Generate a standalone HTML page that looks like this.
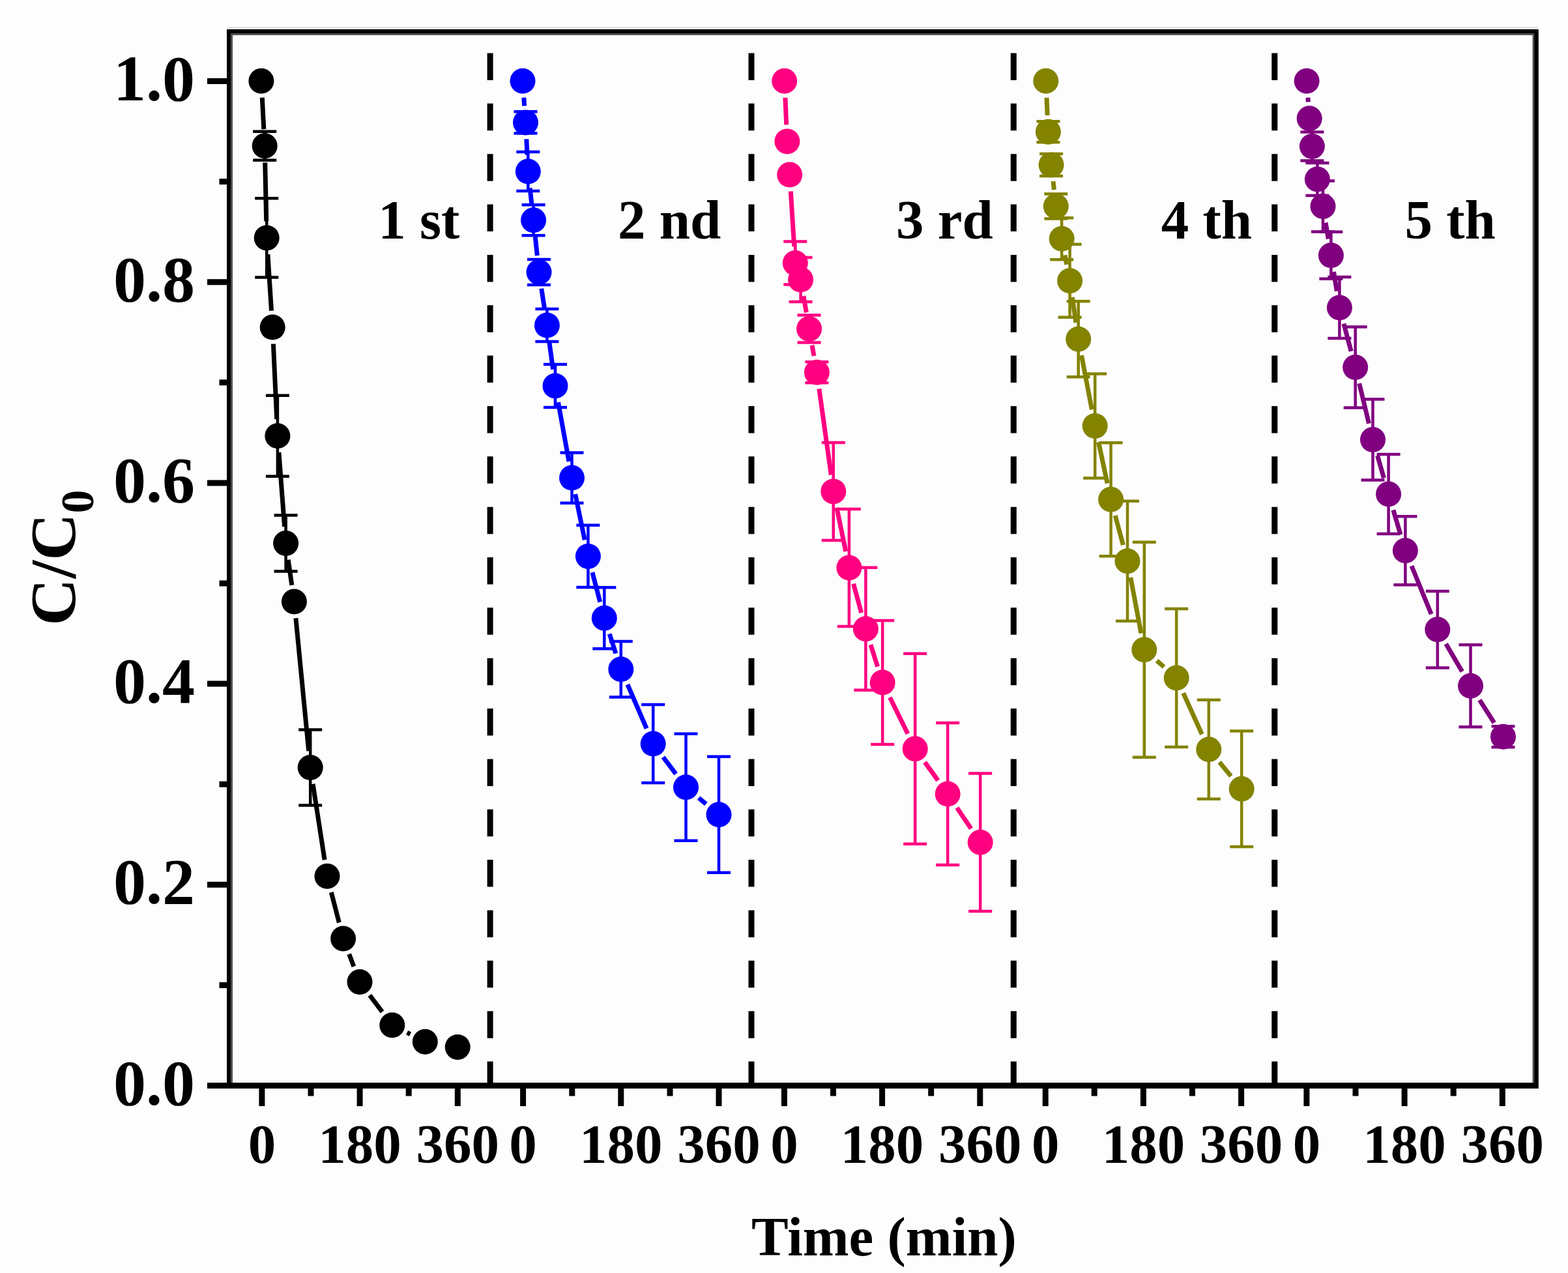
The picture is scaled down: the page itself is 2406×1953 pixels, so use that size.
<!DOCTYPE html><html><head><meta charset="utf-8"><title>C/C0 vs Time</title>
<style>html,body{margin:0;padding:0;background:#ffffff;overflow:hidden}svg{display:block}</style></head><body>
<svg width="2406" height="1953" viewBox="0 0 2406 1953">
<rect x="0" y="0" width="2406" height="1953" fill="#fefefe"/>
<rect x="17" y="41" width="2345" height="1912" fill="#fdfdfd"/>
<rect x="348" y="41" width="2012" height="4" fill="#e6e6e6"/>
<line x1="752.1" y1="81.5" x2="752.1" y2="1665" stroke="#000" stroke-width="9" stroke-dasharray="41.5 35.85"/>
<line x1="1153.0" y1="81.5" x2="1153.0" y2="1665" stroke="#000" stroke-width="9" stroke-dasharray="41.5 35.85"/>
<line x1="1555.3" y1="81.5" x2="1555.3" y2="1665" stroke="#000" stroke-width="9" stroke-dasharray="41.5 35.85"/>
<line x1="1955.8" y1="81.5" x2="1955.8" y2="1665" stroke="#000" stroke-width="9" stroke-dasharray="41.5 35.85"/>
<g stroke="#000000" fill="#000000"><path d="M406.2 201.8V245.8M388.2 201.8h36M388.2 245.8h36" stroke-width="4.5" fill="none"/><path d="M409.2 304.3V425.5M391.2 304.3h36M391.2 425.5h36" stroke-width="4.5" fill="none"/><path d="M425.9 606.7V730.7M407.9 606.7h36M407.9 730.7h36" stroke-width="4.5" fill="none"/><path d="M438.6 790.5V876.5M420.6 790.5h36M420.6 876.5h36" stroke-width="4.5" fill="none"/><path d="M476.2 1119.5V1235.5M458.2 1119.5h36M458.2 1235.5h36" stroke-width="4.5" fill="none"/><path d="M402.3 149.8L404.8 198.3M406.7 249.3L408.7 339.4M410.9 390.3L416.5 476.7M419.4 527.6L424.7 643.2M427.9 694.1L436.6 808.1M442.2 858.7L447.8 897.8M453.9 948.4L473.7 1152.1M480.1 1202.7L498.1 1319.1M508.3 1369.0L520.3 1415.3M535.7 1463.8L542.9 1482.7M567.3 1526.9L586.5 1552.3M624.6 1584.2L629.5 1586.7" stroke-width="7" fill="none"/><circle cx="400.9" cy="124.3" r="19.5" stroke="none"/><circle cx="406.2" cy="223.8" r="19.5" stroke="none"/><circle cx="409.2" cy="364.9" r="19.5" stroke="none"/><circle cx="418.2" cy="502.1" r="19.5" stroke="none"/><circle cx="425.9" cy="668.7" r="19.5" stroke="none"/><circle cx="438.6" cy="833.5" r="19.5" stroke="none"/><circle cx="451.4" cy="923.0" r="19.5" stroke="none"/><circle cx="476.2" cy="1177.5" r="19.5" stroke="none"/><circle cx="502.0" cy="1344.3" r="19.5" stroke="none"/><circle cx="526.6" cy="1440.0" r="19.5" stroke="none"/><circle cx="552.0" cy="1506.5" r="19.5" stroke="none"/><circle cx="601.8" cy="1572.7" r="19.5" stroke="none"/><circle cx="652.3" cy="1598.2" r="19.5" stroke="none"/><circle cx="702.2" cy="1606.4" r="19.5" stroke="none"/></g>
<g stroke="#0000ff" fill="#0000ff"><path d="M806.5 171.3V204.5M788.5 171.3h36M788.5 204.5h36" stroke-width="4.5" fill="none"/><path d="M810.3 233.1V293.1M792.3 233.1h36M792.3 293.1h36" stroke-width="4.5" fill="none"/><path d="M818.6 314.3V361.3M800.6 314.3h36M800.6 361.3h36" stroke-width="4.5" fill="none"/><path d="M827.0 398.1V436.9M809.0 398.1h36M809.0 436.9h36" stroke-width="4.5" fill="none"/><path d="M839.4 474.1V524.1M821.4 474.1h36M821.4 524.1h36" stroke-width="4.5" fill="none"/><path d="M852.0 559.0V625.0M834.0 559.0h36M834.0 625.0h36" stroke-width="4.5" fill="none"/><path d="M877.5 694.4V771.8M859.5 694.4h36M859.5 771.8h36" stroke-width="4.5" fill="none"/><path d="M902.4 805.7V901.1M884.4 805.7h36M884.4 901.1h36" stroke-width="4.5" fill="none"/><path d="M927.3 901.3V995.3M909.3 901.3h36M909.3 995.3h36" stroke-width="4.5" fill="none"/><path d="M952.8 984.0V1069.4M934.8 984.0h36M934.8 1069.4h36" stroke-width="4.5" fill="none"/><path d="M1002.2 1081.1V1201.1M984.2 1081.1h36M984.2 1201.1h36" stroke-width="4.5" fill="none"/><path d="M1052.5 1125.8V1289.8M1034.5 1125.8h36M1034.5 1289.8h36" stroke-width="4.5" fill="none"/><path d="M1103.0 1160.8V1338.8M1085.0 1160.8h36M1085.0 1338.8h36" stroke-width="4.5" fill="none"/><path d="M803.8 149.7L804.7 162.5M807.8 213.4L809.0 237.6M813.1 288.4L815.8 312.5M821.3 363.2L824.3 392.1M830.8 442.7L835.6 473.9M842.8 524.4L848.6 566.7M856.5 617.1L873.0 708.0M882.7 758.1L897.2 828.4M908.9 878.1L920.8 923.6M935.2 972.5L944.9 1002.5M962.9 1050.1L992.1 1117.7M1017.6 1161.5L1037.1 1187.4M1072.1 1224.1L1083.4 1233.5" stroke-width="7" fill="none"/><circle cx="802.0" cy="124.3" r="19.5" stroke="none"/><circle cx="806.5" cy="187.9" r="19.5" stroke="none"/><circle cx="810.3" cy="263.1" r="19.5" stroke="none"/><circle cx="818.6" cy="337.8" r="19.5" stroke="none"/><circle cx="827.0" cy="417.5" r="19.5" stroke="none"/><circle cx="839.4" cy="499.1" r="19.5" stroke="none"/><circle cx="852.0" cy="592.0" r="19.5" stroke="none"/><circle cx="877.5" cy="733.1" r="19.5" stroke="none"/><circle cx="902.4" cy="853.4" r="19.5" stroke="none"/><circle cx="927.3" cy="948.3" r="19.5" stroke="none"/><circle cx="952.8" cy="1026.7" r="19.5" stroke="none"/><circle cx="1002.2" cy="1141.1" r="19.5" stroke="none"/><circle cx="1052.5" cy="1207.8" r="19.5" stroke="none"/><circle cx="1103.0" cy="1249.8" r="19.5" stroke="none"/></g>
<g stroke="#ff0080" fill="#ff0080"><path d="M1220.3 370.6V436.6M1202.3 370.6h36M1202.3 436.6h36" stroke-width="4.5" fill="none"/><path d="M1228.6 395.1V463.1M1210.6 395.1h36M1210.6 463.1h36" stroke-width="4.5" fill="none"/><path d="M1241.6 483.5V525.5M1223.6 483.5h36M1223.6 525.5h36" stroke-width="4.5" fill="none"/><path d="M1253.4 555.3V587.3M1235.4 555.3h36M1235.4 587.3h36" stroke-width="4.5" fill="none"/><path d="M1278.8 678.9V828.9M1260.8 678.9h36M1260.8 828.9h36" stroke-width="4.5" fill="none"/><path d="M1302.9 781.0V961.0M1284.9 781.0h36M1284.9 961.0h36" stroke-width="4.5" fill="none"/><path d="M1328.4 870.8V1058.8M1310.4 870.8h36M1310.4 1058.8h36" stroke-width="4.5" fill="none"/><path d="M1354.2 952.1V1142.1M1336.2 952.1h36M1336.2 1142.1h36" stroke-width="4.5" fill="none"/><path d="M1404.2 1002.7V1294.7M1386.2 1002.7h36M1386.2 1294.7h36" stroke-width="4.5" fill="none"/><path d="M1454.2 1109.1V1327.1M1436.2 1109.1h36M1436.2 1327.1h36" stroke-width="4.5" fill="none"/><path d="M1504.2 1186.6V1398.0M1486.2 1186.6h36M1486.2 1398.0h36" stroke-width="4.5" fill="none"/><path d="M1204.9 149.8L1206.7 191.4M1213.3 293.5L1218.7 378.2M1232.9 454.2L1237.3 479.4M1246.0 529.6L1249.0 546.2M1256.9 596.6L1275.3 728.6M1283.9 778.9L1297.8 846.0M1309.6 895.6L1321.7 940.2M1336.0 989.1L1346.6 1022.8M1365.5 1070.0L1392.9 1125.8M1419.1 1169.4L1439.3 1197.4M1468.4 1239.2L1490.0 1271.2" stroke-width="7" fill="none"/><circle cx="1203.7" cy="124.3" r="19.5" stroke="none"/><circle cx="1207.9" cy="216.9" r="19.5" stroke="none"/><circle cx="1211.7" cy="268.1" r="19.5" stroke="none"/><circle cx="1220.3" cy="403.6" r="19.5" stroke="none"/><circle cx="1228.6" cy="429.1" r="19.5" stroke="none"/><circle cx="1241.6" cy="504.5" r="19.5" stroke="none"/><circle cx="1253.4" cy="571.3" r="19.5" stroke="none"/><circle cx="1278.8" cy="753.9" r="19.5" stroke="none"/><circle cx="1302.9" cy="871.0" r="19.5" stroke="none"/><circle cx="1328.4" cy="964.8" r="19.5" stroke="none"/><circle cx="1354.2" cy="1047.1" r="19.5" stroke="none"/><circle cx="1404.2" cy="1148.7" r="19.5" stroke="none"/><circle cx="1454.2" cy="1218.1" r="19.5" stroke="none"/><circle cx="1504.2" cy="1292.3" r="19.5" stroke="none"/></g>
<g stroke="#838300" fill="#838300"><path d="M1608.4 186.3V218.3M1590.4 186.3h36M1590.4 218.3h36" stroke-width="4.5" fill="none"/><path d="M1613.1 235.9V269.9M1595.1 235.9h36M1595.1 269.9h36" stroke-width="4.5" fill="none"/><path d="M1620.3 297.5V335.5M1602.3 297.5h36M1602.3 335.5h36" stroke-width="4.5" fill="none"/><path d="M1629.2 334.3V398.3M1611.2 334.3h36M1611.2 398.3h36" stroke-width="4.5" fill="none"/><path d="M1641.6 374.8V486.8M1623.6 374.8h36M1623.6 486.8h36" stroke-width="4.5" fill="none"/><path d="M1654.7 462.2V578.2M1636.7 462.2h36M1636.7 578.2h36" stroke-width="4.5" fill="none"/><path d="M1680.2 573.4V733.4M1662.2 573.4h36M1662.2 733.4h36" stroke-width="4.5" fill="none"/><path d="M1704.6 679.3V853.3M1686.6 679.3h36M1686.6 853.3h36" stroke-width="4.5" fill="none"/><path d="M1730.0 768.8V952.8M1712.0 768.8h36M1712.0 952.8h36" stroke-width="4.5" fill="none"/><path d="M1755.8 831.8V1161.8M1737.8 831.8h36M1737.8 1161.8h36" stroke-width="4.5" fill="none"/><path d="M1805.2 934.0V1146.0M1787.2 934.0h36M1787.2 1146.0h36" stroke-width="4.5" fill="none"/><path d="M1854.8 1073.7V1225.7M1836.8 1073.7h36M1836.8 1225.7h36" stroke-width="4.5" fill="none"/><path d="M1905.2 1121.6V1299.0M1887.2 1121.6h36M1887.2 1299.0h36" stroke-width="4.5" fill="none"/><path d="M1606.0 149.8L1607.2 176.8M1616.0 278.2L1617.4 291.2M1634.0 391.3L1636.8 405.8M1645.3 456.0L1651.0 495.0M1659.5 545.2L1675.4 628.4M1685.6 678.3L1699.2 741.4M1711.2 790.9L1723.4 836.2M1734.8 885.9L1751.0 971.7M1775.0 1013.6L1786.0 1023.2M1815.7 1063.2L1844.3 1126.5M1871.1 1169.3L1888.9 1190.7" stroke-width="7" fill="none"/><circle cx="1604.8" cy="124.3" r="19.5" stroke="none"/><circle cx="1608.4" cy="202.3" r="19.5" stroke="none"/><circle cx="1613.1" cy="252.9" r="19.5" stroke="none"/><circle cx="1620.3" cy="316.5" r="19.5" stroke="none"/><circle cx="1629.2" cy="366.3" r="19.5" stroke="none"/><circle cx="1641.6" cy="430.8" r="19.5" stroke="none"/><circle cx="1654.7" cy="520.2" r="19.5" stroke="none"/><circle cx="1680.2" cy="653.4" r="19.5" stroke="none"/><circle cx="1704.6" cy="766.3" r="19.5" stroke="none"/><circle cx="1730.0" cy="860.8" r="19.5" stroke="none"/><circle cx="1755.8" cy="996.8" r="19.5" stroke="none"/><circle cx="1805.2" cy="1040.0" r="19.5" stroke="none"/><circle cx="1854.8" cy="1149.7" r="19.5" stroke="none"/><circle cx="1905.2" cy="1210.3" r="19.5" stroke="none"/></g>
<g stroke="#800080" fill="#800080"><path d="M2013.4 202.4V246.4M1995.4 202.4h36M1995.4 246.4h36" stroke-width="4.5" fill="none"/><path d="M2021.4 250.0V300.0M2003.4 250.0h36M2003.4 300.0h36" stroke-width="4.5" fill="none"/><path d="M2030.0 277.5V355.5M2012.0 277.5h36M2012.0 355.5h36" stroke-width="4.5" fill="none"/><path d="M2042.4 355.8V427.8M2024.4 355.8h36M2024.4 427.8h36" stroke-width="4.5" fill="none"/><path d="M2055.4 425.0V519.0M2037.4 425.0h36M2037.4 519.0h36" stroke-width="4.5" fill="none"/><path d="M2079.7 501.5V625.5M2061.7 501.5h36M2061.7 625.5h36" stroke-width="4.5" fill="none"/><path d="M2106.5 612.5V736.5M2088.5 612.5h36M2088.5 736.5h36" stroke-width="4.5" fill="none"/><path d="M2130.6 697.0V819.0M2112.6 697.0h36M2112.6 819.0h36" stroke-width="4.5" fill="none"/><path d="M2156.4 792.2V897.2M2138.4 792.2h36M2138.4 897.2h36" stroke-width="4.5" fill="none"/><path d="M2205.8 907.1V1024.5M2187.8 907.1h36M2187.8 1024.5h36" stroke-width="4.5" fill="none"/><path d="M2256.5 989.3V1115.3M2238.5 989.3h36M2238.5 1115.3h36" stroke-width="4.5" fill="none"/><path d="M2306.5 1114.3V1146.3M2288.5 1114.3h36M2288.5 1146.3h36" stroke-width="4.5" fill="none"/><path d="M2006.9 149.7L2007.4 156.4M2034.1 341.7L2038.3 366.6M2046.5 417.0L2051.3 446.8M2061.9 496.6L2073.2 538.9M2085.7 588.3L2100.5 649.7M2113.6 699.0L2123.5 733.5M2137.9 782.4L2149.1 820.3M2166.0 868.3L2196.2 942.2M2218.7 987.8L2243.6 1030.3M2270.3 1073.8L2292.7 1108.8" stroke-width="7" fill="none"/><circle cx="2005.1" cy="124.3" r="19.5" stroke="none"/><circle cx="2009.2" cy="181.8" r="19.5" stroke="none"/><circle cx="2013.4" cy="224.4" r="19.5" stroke="none"/><circle cx="2021.4" cy="275.0" r="19.5" stroke="none"/><circle cx="2030.0" cy="316.5" r="19.5" stroke="none"/><circle cx="2042.4" cy="391.8" r="19.5" stroke="none"/><circle cx="2055.4" cy="472.0" r="19.5" stroke="none"/><circle cx="2079.7" cy="563.5" r="19.5" stroke="none"/><circle cx="2106.5" cy="674.5" r="19.5" stroke="none"/><circle cx="2130.6" cy="758.0" r="19.5" stroke="none"/><circle cx="2156.4" cy="844.7" r="19.5" stroke="none"/><circle cx="2205.8" cy="965.8" r="19.5" stroke="none"/><circle cx="2256.5" cy="1052.3" r="19.5" stroke="none"/><circle cx="2306.5" cy="1130.3" r="19.5" stroke="none"/></g>
<rect x="352.5" y="49.5" width="2003.8" height="1616" fill="none" stroke="#000" stroke-width="9"/>
<path d="M354 51h1998v3H357v1607h-3z" fill="#505050"/>
<rect x="2351.8" y="51" width="2.5" height="1610" fill="#505050"/>
<line x1="318" y1="1665.5" x2="352" y2="1665.5" stroke="#000" stroke-width="9"/>
<text x="299" y="1694.5" text-anchor="end" font-family="'Liberation Serif', serif" font-weight="bold" font-size="100">0.0</text>
<line x1="336.5" y1="1511.4" x2="352" y2="1511.4" stroke="#000" stroke-width="9"/>
<line x1="318" y1="1357.3" x2="352" y2="1357.3" stroke="#000" stroke-width="9"/>
<text x="299" y="1386.3" text-anchor="end" font-family="'Liberation Serif', serif" font-weight="bold" font-size="100">0.2</text>
<line x1="336.5" y1="1203.2" x2="352" y2="1203.2" stroke="#000" stroke-width="9"/>
<line x1="318" y1="1049.1" x2="352" y2="1049.1" stroke="#000" stroke-width="9"/>
<text x="299" y="1078.1" text-anchor="end" font-family="'Liberation Serif', serif" font-weight="bold" font-size="100">0.4</text>
<line x1="336.5" y1="895.0" x2="352" y2="895.0" stroke="#000" stroke-width="9"/>
<line x1="318" y1="740.9" x2="352" y2="740.9" stroke="#000" stroke-width="9"/>
<text x="299" y="769.9" text-anchor="end" font-family="'Liberation Serif', serif" font-weight="bold" font-size="100">0.6</text>
<line x1="336.5" y1="586.8" x2="352" y2="586.8" stroke="#000" stroke-width="9"/>
<line x1="318" y1="432.7" x2="352" y2="432.7" stroke="#000" stroke-width="9"/>
<text x="299" y="461.7" text-anchor="end" font-family="'Liberation Serif', serif" font-weight="bold" font-size="100">0.8</text>
<line x1="336.5" y1="278.6" x2="352" y2="278.6" stroke="#000" stroke-width="9"/>
<line x1="318" y1="124.5" x2="352" y2="124.5" stroke="#000" stroke-width="9"/>
<text x="299" y="153.5" text-anchor="end" font-family="'Liberation Serif', serif" font-weight="bold" font-size="100">1.0</text>
<line x1="401.9" y1="1666" x2="401.9" y2="1697" stroke="#000" stroke-width="9"/>
<text x="401.9" y="1784" text-anchor="middle" font-family="'Liberation Serif', serif" font-weight="bold" font-size="85">0</text>
<line x1="477.0" y1="1666" x2="477.0" y2="1681.5" stroke="#000" stroke-width="9"/>
<line x1="552.1" y1="1666" x2="552.1" y2="1697" stroke="#000" stroke-width="9"/>
<text x="552.1" y="1784" text-anchor="middle" font-family="'Liberation Serif', serif" font-weight="bold" font-size="85">180</text>
<line x1="627.2" y1="1666" x2="627.2" y2="1681.5" stroke="#000" stroke-width="9"/>
<line x1="702.3" y1="1666" x2="702.3" y2="1697" stroke="#000" stroke-width="9"/>
<text x="702.3" y="1784" text-anchor="middle" font-family="'Liberation Serif', serif" font-weight="bold" font-size="85">360</text>
<line x1="802.6" y1="1666" x2="802.6" y2="1697" stroke="#000" stroke-width="9"/>
<text x="802.6" y="1784" text-anchor="middle" font-family="'Liberation Serif', serif" font-weight="bold" font-size="85">0</text>
<line x1="877.8" y1="1666" x2="877.8" y2="1681.5" stroke="#000" stroke-width="9"/>
<line x1="952.8" y1="1666" x2="952.8" y2="1697" stroke="#000" stroke-width="9"/>
<text x="952.8" y="1784" text-anchor="middle" font-family="'Liberation Serif', serif" font-weight="bold" font-size="85">180</text>
<line x1="1028.0" y1="1666" x2="1028.0" y2="1681.5" stroke="#000" stroke-width="9"/>
<line x1="1103.0" y1="1666" x2="1103.0" y2="1697" stroke="#000" stroke-width="9"/>
<text x="1103.0" y="1784" text-anchor="middle" font-family="'Liberation Serif', serif" font-weight="bold" font-size="85">360</text>
<line x1="1203.4" y1="1666" x2="1203.4" y2="1697" stroke="#000" stroke-width="9"/>
<text x="1203.4" y="1784" text-anchor="middle" font-family="'Liberation Serif', serif" font-weight="bold" font-size="85">0</text>
<line x1="1278.5" y1="1666" x2="1278.5" y2="1681.5" stroke="#000" stroke-width="9"/>
<line x1="1353.6" y1="1666" x2="1353.6" y2="1697" stroke="#000" stroke-width="9"/>
<text x="1353.6" y="1784" text-anchor="middle" font-family="'Liberation Serif', serif" font-weight="bold" font-size="85">180</text>
<line x1="1428.7" y1="1666" x2="1428.7" y2="1681.5" stroke="#000" stroke-width="9"/>
<line x1="1503.8" y1="1666" x2="1503.8" y2="1697" stroke="#000" stroke-width="9"/>
<text x="1503.8" y="1784" text-anchor="middle" font-family="'Liberation Serif', serif" font-weight="bold" font-size="85">360</text>
<line x1="1604.2" y1="1666" x2="1604.2" y2="1697" stroke="#000" stroke-width="9"/>
<text x="1604.2" y="1784" text-anchor="middle" font-family="'Liberation Serif', serif" font-weight="bold" font-size="85">0</text>
<line x1="1679.2" y1="1666" x2="1679.2" y2="1681.5" stroke="#000" stroke-width="9"/>
<line x1="1754.4" y1="1666" x2="1754.4" y2="1697" stroke="#000" stroke-width="9"/>
<text x="1754.4" y="1784" text-anchor="middle" font-family="'Liberation Serif', serif" font-weight="bold" font-size="85">180</text>
<line x1="1829.5" y1="1666" x2="1829.5" y2="1681.5" stroke="#000" stroke-width="9"/>
<line x1="1904.6" y1="1666" x2="1904.6" y2="1697" stroke="#000" stroke-width="9"/>
<text x="1904.6" y="1784" text-anchor="middle" font-family="'Liberation Serif', serif" font-weight="bold" font-size="85">360</text>
<line x1="2004.9" y1="1666" x2="2004.9" y2="1697" stroke="#000" stroke-width="9"/>
<text x="2004.9" y="1784" text-anchor="middle" font-family="'Liberation Serif', serif" font-weight="bold" font-size="85">0</text>
<line x1="2080.0" y1="1666" x2="2080.0" y2="1681.5" stroke="#000" stroke-width="9"/>
<line x1="2155.1" y1="1666" x2="2155.1" y2="1697" stroke="#000" stroke-width="9"/>
<text x="2155.1" y="1784" text-anchor="middle" font-family="'Liberation Serif', serif" font-weight="bold" font-size="85">180</text>
<line x1="2230.2" y1="1666" x2="2230.2" y2="1681.5" stroke="#000" stroke-width="9"/>
<line x1="2305.3" y1="1666" x2="2305.3" y2="1697" stroke="#000" stroke-width="9"/>
<text x="2305.3" y="1784" text-anchor="middle" font-family="'Liberation Serif', serif" font-weight="bold" font-size="85">360</text>
<text x="580.2" y="366" font-family="'Liberation Serif', serif" font-weight="bold" font-size="85" xml:space="preserve">1 st</text>
<text x="948.0" y="366" font-family="'Liberation Serif', serif" font-weight="bold" font-size="85" xml:space="preserve">2 nd</text>
<text x="1375.0" y="366" font-family="'Liberation Serif', serif" font-weight="bold" font-size="85" xml:space="preserve">3 rd</text>
<text x="1781.7" y="366" font-family="'Liberation Serif', serif" font-weight="bold" font-size="85" xml:space="preserve">4 th</text>
<text x="2155.5" y="366" font-family="'Liberation Serif', serif" font-weight="bold" font-size="85" xml:space="preserve">5 th</text>
<text x="1153" y="1925.5" font-family="'Liberation Serif', serif" font-weight="bold" font-size="85">Time (min)</text>
<text transform="translate(115 959.7) rotate(-90)" font-family="'Liberation Serif', serif" font-weight="bold" font-size="100">C/C<tspan font-size="72" dy="28">0</tspan></text>
</svg></body></html>
